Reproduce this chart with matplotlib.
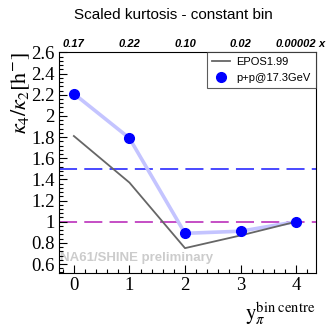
import matplotlib
matplotlib.use("Agg")
import matplotlib.pyplot as plt
from matplotlib.ticker import MultipleLocator
import matplotlib.transforms as mtrans

# Data
x_bins = [0, 1, 2, 3, 4]
data_vals = [2.21, 1.79, 0.89, 0.91, 1.00]
epos_vals = [1.81, 1.37, 0.75, 0.87, 1.00]
top_labels = ["0.17", "0.22", "0.10", "0.02", "0.00002"]
yticks = [0.6, 0.8, 1.0, 1.2, 1.4, 1.6, 1.8, 2.0, 2.2, 2.4, 2.6]
ytick_labels = ["0.6", "0.8", "1", "1.2", "1.4", "1.6", "1.8", "2", "2.2", "2.4", "2.6"]
ref_blue = 1.5
ref_magenta = 1.0

plt.rcParams['mathtext.fontset'] = 'stix'

fig = plt.figure(figsize=(3.27, 3.26), dpi=100)
ax = fig.add_axes([0.180, 0.1626, 0.785, 0.6774])

ax.plot(x_bins, data_vals, color='#c4c4ff', lw=2.6, zorder=2,
        solid_capstyle='round')
ax.plot(x_bins, epos_vals, color='#666666', lw=1.3, zorder=3, label='EPOS1.99')
ax.plot(x_bins, data_vals, 'o', color='#0000ff', ms=7, zorder=4,
        label='p+p@17.3GeV')
ax.axhline(ref_blue, color='#3a3aff', lw=1.3, ls=(0, (10, 4)), zorder=1)
ax.axhline(ref_magenta, color='#c040c0', lw=1.3, ls=(0, (10, 4)), zorder=1)

ax.set_xlim(-0.27, 4.35)
ax.set_ylim(0.515, 2.603)
ax.set_xticks(x_bins)
ax.set_xticklabels([str(v) for v in x_bins], fontfamily='Liberation Serif', fontsize=13.5)
ax.set_yticks(yticks)
ax.set_yticklabels(ytick_labels, fontfamily='Liberation Serif', fontsize=13.5)
ax.xaxis.set_minor_locator(MultipleLocator(0.2))
ax.yaxis.set_minor_locator(MultipleLocator(0.04))
ax.tick_params(which='both', direction='in', top=False, right=False, width=0.8)
ax.tick_params(which='major', length=6, pad=3)
ax.tick_params(which='minor', length=3)
for s in ax.spines.values():
    s.set_linewidth(0.8)

ax.set_ylabel(r'$\kappa_4/\kappa_2[\mathrm{h}^{-}]$', fontsize=16, ha='right', va='center')
ax.yaxis.set_label_coords(-0.148, 1.0)
ax.text(1.0, -0.12, r'$\mathrm{y}_{\pi}^{\mathrm{bin\ centre}}$', transform=ax.transAxes,
        ha='right', va='top', fontsize=15)

trans = mtrans.blended_transform_factory(ax.transData, ax.transAxes)
for xv, lab in zip(x_bins, top_labels):
    ax.text(xv, 1.015, lab, transform=trans, ha='center', va='bottom',
            fontsize=8, fontweight='bold', fontstyle='italic', fontfamily='Liberation Sans')
ax.text(1.025, 1.015, 'x', transform=ax.transAxes, ha='center', va='bottom',
        fontsize=8, fontweight='bold', fontstyle='italic', fontfamily='Liberation Sans')

ax.text(0.005, 0.07, 'NA61/SHINE preliminary', transform=ax.transAxes, ha='left',
        va='center', fontsize=9.5, fontweight='bold', color='#cccccc',
        fontfamily='Liberation Sans', zorder=0)

leg = ax.legend(loc='upper right', bbox_to_anchor=(1.0, 1.0), frameon=True,
                fancybox=False, edgecolor='#333333',
                prop={'family': 'Liberation Sans', 'size': 8},
                borderaxespad=0, handlelength=1.6, handletextpad=0.6,
                borderpad=0.45, labelspacing=0.5)
leg.get_frame().set_linewidth(0.8)

fig.text(0.53, 0.955, 'Scaled kurtosis - constant bin', ha='center', va='center',
         fontsize=11, fontfamily='Liberation Sans')

fig.savefig('out.png', dpi=100)
